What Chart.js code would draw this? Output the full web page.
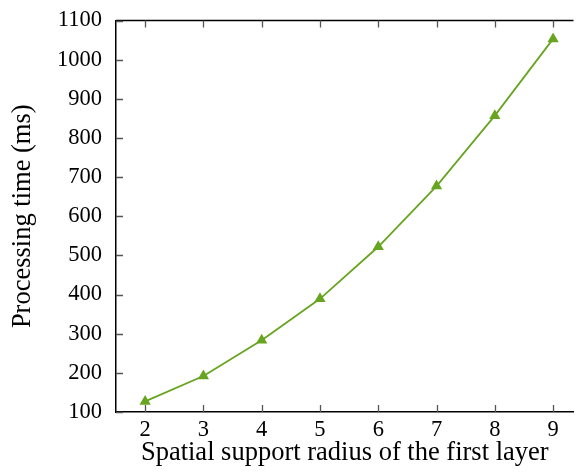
<!DOCTYPE html>
<html>
<head>
<meta charset="utf-8">
<script src="https://cdn.jsdelivr.net/npm/chart.js@4"></script>
<style>
  html, body { margin: 0; padding: 0; background: #fff; overflow: hidden; }
  #wrap { width: 580px; height: 472px; }
</style>
</head>
<body>
<div id="wrap"><canvas id="chart" width="580" height="472"></canvas></div>
<script>
const radius = [2, 3, 4, 5, 6, 7, 8, 9];
const timeMs = [127, 192, 283, 389, 522, 677, 857, 1053];
const xTicks = [2, 3, 4, 5, 6, 7, 8, 9];
const yTicks = [100, 200, 300, 400, 500, 600, 700, 800, 900, 1000, 1100];

const green = '#67a521';
const serif = "'Liberation Serif', 'DejaVu Serif', serif";

// inward tick marks + top frame line
const innerTicks = {
    id: 'innerTicks',
    afterDraw(chart) {
        const ctx = chart.ctx;
        const area = chart.chartArea;
        const xs = chart.scales.x;
        const ys = chart.scales.y;
        ctx.save();
        ctx.strokeStyle = '#000';
        ctx.lineWidth = 1.5;
        ctx.beginPath();
        ctx.moveTo(area.left, area.top);
        ctx.lineTo(area.right, area.top);
        ctx.stroke();

        ctx.strokeStyle = '#555';
        ctx.lineWidth = 1.3;
        ctx.beginPath();
        xTicks.forEach(v => {
            const px = Math.round(xs.getPixelForValue(v)) + 0.5;
            ctx.moveTo(px, area.bottom);
            ctx.lineTo(px, area.bottom - 7);
            ctx.moveTo(px, area.top);
            ctx.lineTo(px, area.top + 7);
        });
        yTicks.forEach(v => {
            const py = Math.round(ys.getPixelForValue(v)) + 0.5;
            ctx.moveTo(area.left, py);
            ctx.lineTo(area.left + 7, py);
        });
        ctx.stroke();
        ctx.restore();
    }
};

new Chart(document.getElementById('chart'), {
    type: 'line',
    data: {
        datasets: [{
            data: radius.map((r, i) => ({ x: r, y: timeMs[i] })),
            borderColor: green,
            backgroundColor: green,
            borderWidth: 1.8,
            pointStyle: 'triangle',
            pointRadius: 6.5,
            pointBorderWidth: 0,
            tension: 0
        }]
    },
    options: {
        responsive: false,
        animation: false,
        layout: { padding: { top: 20.5, right: 0, left: 0, bottom: 0 } },
        plugins: { legend: { display: false }, tooltip: { enabled: false } },
        scales: {
            x: {
                type: 'linear',
                min: 1.5,
                max: 9.35,
                afterBuildTicks: s => { s.ticks = xTicks.map(v => ({ value: v })); },
                afterFit: s => { s.height = 60; s.paddingLeft = 0; s.paddingRight = 0; },
                grid: { display: false, drawTicks: false },
                border: { display: true, color: '#000', width: 1.5 },
                ticks: {
                    color: '#000',
                    padding: 5,
                    font: { family: serif, size: 22.5 },
                    callback: v => String(v)
                },
                title: {
                    display: true,
                    text: 'Spatial support radius of the first layer',
                    color: '#000',
                    padding: { top: 0, bottom: 3 },
                    font: { family: serif, size: 26.5 }
                }
            },
            y: {
                min: 100,
                max: 1100,
                afterBuildTicks: s => { s.ticks = yTicks.map(v => ({ value: v })); },
                afterFit: s => { s.width = 116; s.paddingTop = 0; s.paddingBottom = 0; },
                grid: { display: false, drawTicks: false },
                border: { display: true, color: '#000', width: 1.5 },
                ticks: {
                    color: '#000',
                    padding: 14,
                    font: { family: serif, size: 22.5 },
                    callback: v => String(v)
                },
                title: {
                    display: true,
                    text: 'Processing time (ms)',
                    color: '#000',
                    padding: { top: 7, bottom: 0 },
                    font: { family: serif, size: 26.5 }
                }
            }
        }
    },
    plugins: [innerTicks]
});
</script>
</body>
</html>
